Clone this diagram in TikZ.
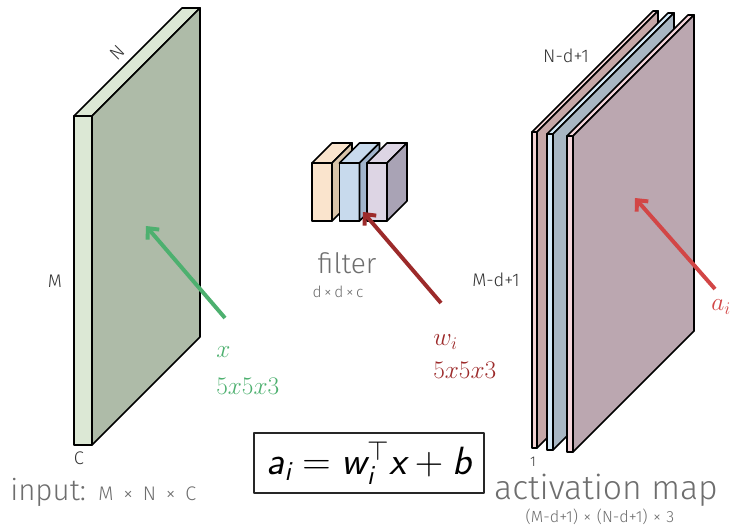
\IfFileExists{fix-cm.sty}{\RequirePackage{fix-cm}}{}
\documentclass[tikz,border=0pt]{standalone}
\usepackage{amsmath}
\usepackage{fontspec}
\usetikzlibrary{arrows.meta}
\IfFontExistsTF{Fira Sans Light}{\newfontfamily\handfont{Fira Sans Light}}{\newfontfamily\handfont{Fira Sans}}
\newcommand{\sfi}[1]{\textsf{\itshape #1}}
\definecolor{inthin}{HTML}{DCE8D5}
\definecolor{inface}{HTML}{AEBBA8}
\definecolor{orfront}{HTML}{FAE4CD}
\definecolor{orside}{HTML}{D9C4A9}
\definecolor{blfront}{HTML}{C8DAED}
\definecolor{blside}{HTML}{A1B4CC}
\definecolor{pufront}{HTML}{DDD5E4}
\definecolor{puside}{HTML}{A9A3B5}
\definecolor{pkthin}{HTML}{F4D3D3}
\definecolor{pkface}{HTML}{C5A7A7}
\definecolor{bgthin}{HTML}{D4E8F6}
\definecolor{bgface}{HTML}{A8B6C3}
\definecolor{mvthin}{HTML}{F3D4DA}
\definecolor{mvface}{HTML}{BBA7B0}
\definecolor{arrgreen}{HTML}{4DB06F}
\definecolor{arrdark}{HTML}{9C2A2A}
\definecolor{arrred}{HTML}{D24646}
\definecolor{handgray}{HTML}{6E6E6E}
\definecolor{dimgray}{HTML}{333333}
% slab: x, y, thickness, height, depth, front colour, side colour
\newcommand{\slab}[7]{%
  \filldraw[fill=#6, line width=1.2pt] (#1,#2) rectangle ++(#3,#4);
  \filldraw[fill=#6, line width=1.2pt] (#1,#2) -- ++(#5,-#5) -- ++(#3,0) -- ++(-#5,#5) -- cycle;
  \filldraw[fill=#7, line width=1.2pt] (#1+#3,#2) -- ++(#5,-#5) -- ++(0,#4) -- ++(-#5,#5) -- cycle;
}
\begin{document}
\begin{tikzpicture}[x=0.025cm, y=-0.025cm, line join=round,
  pointer/.style={line width=2.8pt, -{Straight Barb[length=6pt, width=11pt]}},
  handlbl/.style={text=handgray, inner sep=0pt},
  dimlbl/.style={text=dimgray, inner sep=0pt, font=\handfont\fontsize{13}{15}\selectfont},
  sizelbl/.style={inner sep=0pt, anchor=west, font=\fontsize{18}{22}\selectfont}]
\useasboundingbox (0,0) rectangle (736,531);
% input volume
\slab{74}{116}{18}{329}{108}{inthin}{inface}
\node[dimlbl, rotate=45] (nin) at (117,53) {N};
\node[dimlbl] (min) at (55,281) {M};
\node[dimlbl] (cin) at (79,458) {C};
\node[handlbl, anchor=base west, font=\handfont\fontsize{21}{24}\selectfont] (inlbl) at (10,500) {input:};
\node[handlbl, anchor=base west, font=\handfont\fontsize{14}{16}\selectfont] (indim) at (98,500) {M\enspace×\enspace N\enspace×\enspace C};
% filter
\slab{312}{163}{20}{58}{20}{orfront}{orside}
\slab{339.5}{163}{20}{58}{20}{blfront}{blside}
\slab{367}{163}{20}{58}{20}{pufront}{puside}
\node[handlbl, font=\handfont\fontsize{20}{24}\selectfont] (filterlbl) at (347,263) {filter};
\node[handlbl, font=\handfont\fontsize{11}{13}\selectfont] (filterdim) at (338,292) {d\,×\,d\,×\,c};
% activation map
\slab{532}{132}{5}{316}{121}{pkthin}{pkface}
\slab{547}{134}{6}{316}{121}{bgthin}{bgface}
\slab{567}{136}{6}{316}{121}{mvthin}{mvface}
\node[dimlbl] (nout) at (566,56) {N-d+1};
\node[dimlbl] (mout) at (496,280) {M-d+1};
\node[dimlbl, font=\handfont\fontsize{10}{12}\selectfont] (cout) at (533,462) {1};
\node[handlbl, font=\handfont\fontsize{24}{28}\selectfont] (outlbl) at (606,490) {activation map};
\node[handlbl, font=\handfont\fontsize{11.5}{13}\selectfont] (outdim) at (600,517) {(M-d+1)\,\,×\,\,(N-d+1)\,\,×\,\,3};
% pointers
\coordinate (xtail) at (225,318);
\coordinate (xtip) at (146,226);
\coordinate (wtail) at (441,303);
\coordinate (wtip) at (363,212);
\coordinate (atail) at (715,289);
\coordinate (atip) at (635,198);
\draw[pointer, draw=arrgreen] (xtail) -- (xtip);
\draw[pointer, draw=arrdark] (wtail) -- (wtip);
\draw[pointer, draw=arrred] (atail) -- (atip);
\node[sizelbl, text=arrgreen] (xlbl) at (216,352) {$x$};
\node[sizelbl, text=arrgreen] (xsize) at (216,386) {$5x5x3$};
\node[sizelbl, text=arrdark] (wlbl) at (433,342) {$w_i$};
\node[sizelbl, text=arrdark] (wsize) at (433,370) {$5x5x3$};
\node[sizelbl, text=arrred] (albl) at (711,307) {$a_i$};
% formula
\node[draw=black!85, line width=0.9pt, minimum width=5.75cm, minimum height=1.5cm, inner sep=0pt,
  font=\fontsize{28}{32}\selectfont] (formula) at (369,463)
  {$\sfi{a}_{\sfi{i}} = \sfi{w}_{\sfi{i}}^{\top}\sfi{x} + \sfi{b}$};
\end{tikzpicture}
\end{document}
